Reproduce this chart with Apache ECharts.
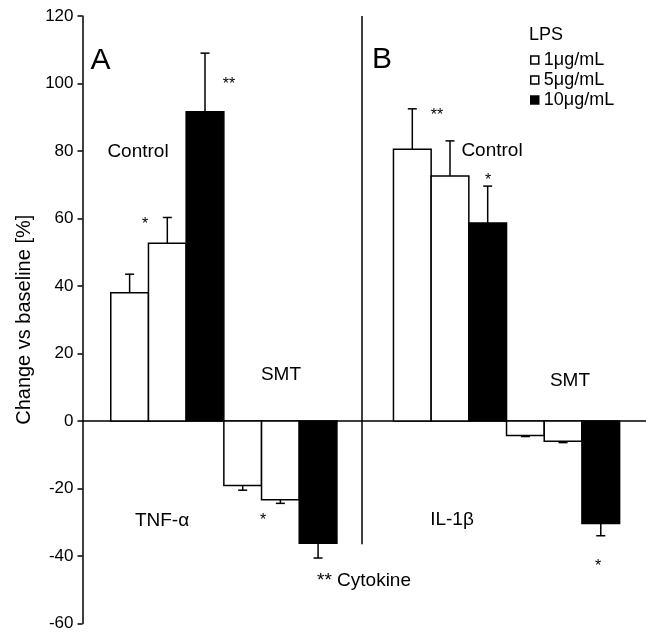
<!DOCTYPE html>
<html>
<head>
<meta charset="utf-8">
<script src="https://cdn.jsdelivr.net/npm/echarts@6/dist/echarts.min.js"></script>
<style>
  html, body { margin: 0; padding: 0; background: #fff; }
  #chart { width: 646px; height: 632px; }
</style>
</head>
<body>
<div id="chart"></div>
<script>
// groups along the x direction: panel A (TNF-a) then panel B (IL-1b)
const groups = ["A Control", "A SMT", "B Control", "B SMT"];
const doses = ["1μg/mL", "5μg/mL", "10μg/mL"];

// mean change vs baseline [%] per group, one array per LPS dose
const mean1 = [38, -19.1, 80.5, -4.3];
const mean5 = [52.7, -23.3, 72.6, -6.0];
const mean10 = [91.6, -36.2, 58.7, -30.4];

// error bar length (drawn away from zero only)
const err1 = [5.5, 1.4, 12.0, 0.3];
const err5 = [7.6, 1.1, 10.4, 0.4];
const err10 = [17.4, 4.4, 10.9, 3.6];

const yTicks = [-60, -40, -20, 0, 20, 40, 60, 80, 100, 120];

const FONT = "'Liberation Sans', Arial, Helvetica, sans-serif";
const fills = ["#ffffff", "#ffffff", "#000000"];
const PANEL_GAP = 1.5; // empty space between panel A and B, in bar widths
const FIRST = 1.25;    // centre of the first bar, in bar widths

function xOf(g, s) {
  return FIRST + g * 3 + s + (g >= 2 ? PANEL_GAP : 0);
}

function buildData(means, errs, s) {
  return means.map((m, g) => [xOf(g, s), m, errs[g]]);
}

function renderBar(params, api) {
  const x = api.value(0);
  const y = api.value(1);
  const e = api.value(2);
  const base = api.coord([x, 0]);
  const top = api.coord([x, y]);
  const tip = api.coord([x, y + Math.sign(y) * e]);
  const w = api.size([1, 0])[0];
  const capHalf = 4.5;
  return {
    type: "group",
    children: [
      {
        type: "rect",
        shape: {
          x: base[0] - w / 2,
          y: Math.min(base[1], top[1]),
          width: w,
          height: Math.abs(top[1] - base[1]),
        },
        style: { fill: fills[params.seriesIndex], stroke: "#000", lineWidth: 1.5 },
      },
      {
        type: "line",
        shape: { x1: top[0], y1: top[1], x2: tip[0], y2: tip[1] },
        style: { stroke: "#000", lineWidth: 1.5 },
      },
      {
        type: "line",
        shape: { x1: tip[0] - capHalf, y1: tip[1], x2: tip[0] + capHalf, y2: tip[1] },
        style: { stroke: "#000", lineWidth: 1.5 },
      },
    ],
  };
}

const means = [mean1, mean5, mean10];
const errs = [err1, err5, err10];

const series = doses.map((d, s) => ({
  name: d,
  type: "custom",
  renderItem: renderBar,
  itemStyle: { color: fills[s], borderColor: "#000", borderWidth: 1.5 },
  data: buildData(means[s], errs[s], s),
  encode: { x: 0, y: 1 },
  silent: true,
}));

// vertical divider between the panels
series[0].markLine = {
  silent: true,
  symbol: ["none", "none"],
  label: { show: false },
  lineStyle: { color: "#000", width: 1.5, type: "solid" },
  data: [[{ coord: [7.4, 120] }, { coord: [7.4, -36.5] }]],
};

function txt(x, y, text, size, align) {
  return {
    type: "text",
    x: x,
    y: y,
    style: {
      text: text,
      fontFamily: FONT,
      fontSize: size,
      fill: "#000",
      align: align || "center",
      verticalAlign: "middle",
    },
  };
}

const chart = echarts.init(document.getElementById("chart"));
chart.setOption({
  animation: false,
  backgroundColor: "#fff",
  grid: { left: 82.5, right: 0, top: 16, bottom: 7, containLabel: false },
  xAxis: {
    type: "value",
    min: 0,
    max: 14.95,
    axisLine: { show: true, onZero: true, lineStyle: { color: "#000", width: 1.5 } },
    axisTick: { show: false },
    axisLabel: { show: false },
    splitLine: { show: false },
  },
  yAxis: {
    type: "value",
    min: yTicks[0],
    max: yTicks[yTicks.length - 1],
    interval: 20,
    name: "Change vs baseline [%]",
    nameLocation: "middle",
    nameGap: 45,
    nameTextStyle: { fontFamily: FONT, fontSize: 20, color: "#000" },
    axisLine: { show: true, lineStyle: { color: "#000", width: 1.5 } },
    axisTick: { show: true, inside: false, length: 5, lineStyle: { color: "#000", width: 1.5 } },
    axisLabel: { fontFamily: FONT, fontSize: 17, color: "#000", margin: 9 },
    splitLine: { show: false },
  },
  legend: {
    orient: "vertical",
    left: 525,
    top: 46,
    itemWidth: 8,
    itemHeight: 8,
    itemGap: 2,
    selectedMode: false,
    textStyle: { fontFamily: FONT, fontSize: 18, color: "#000" },
    data: doses.map((d, s) => ({
      name: d,
      icon: "rect",
      itemStyle: { color: fills[s], borderColor: "#000", borderWidth: 1.5 },
    })),
  },
  graphic: [
    txt(529, 35, "LPS", 18, "left"),
    txt(100.5, 61, "A", 30),
    txt(382, 60, "B", 30),
    txt(138, 152, "Control", 19),
    txt(229, 85, "**", 16),
    txt(145, 225, "*", 16),
    txt(281, 375, "SMT", 19),
    txt(162, 521, "TNF-α", 19),
    txt(263, 521, "*", 16),
    txt(317, 581, "** Cytokine", 19, "left"),
    txt(492, 151, "Control", 19),
    txt(437, 116, "**", 16),
    txt(488, 181, "*", 16),
    txt(570, 381, "SMT", 19),
    txt(452, 520, "IL-1β", 19),
    txt(598, 567, "*", 16),
  ],
  series: series,
});
</script>
</body>
</html>
